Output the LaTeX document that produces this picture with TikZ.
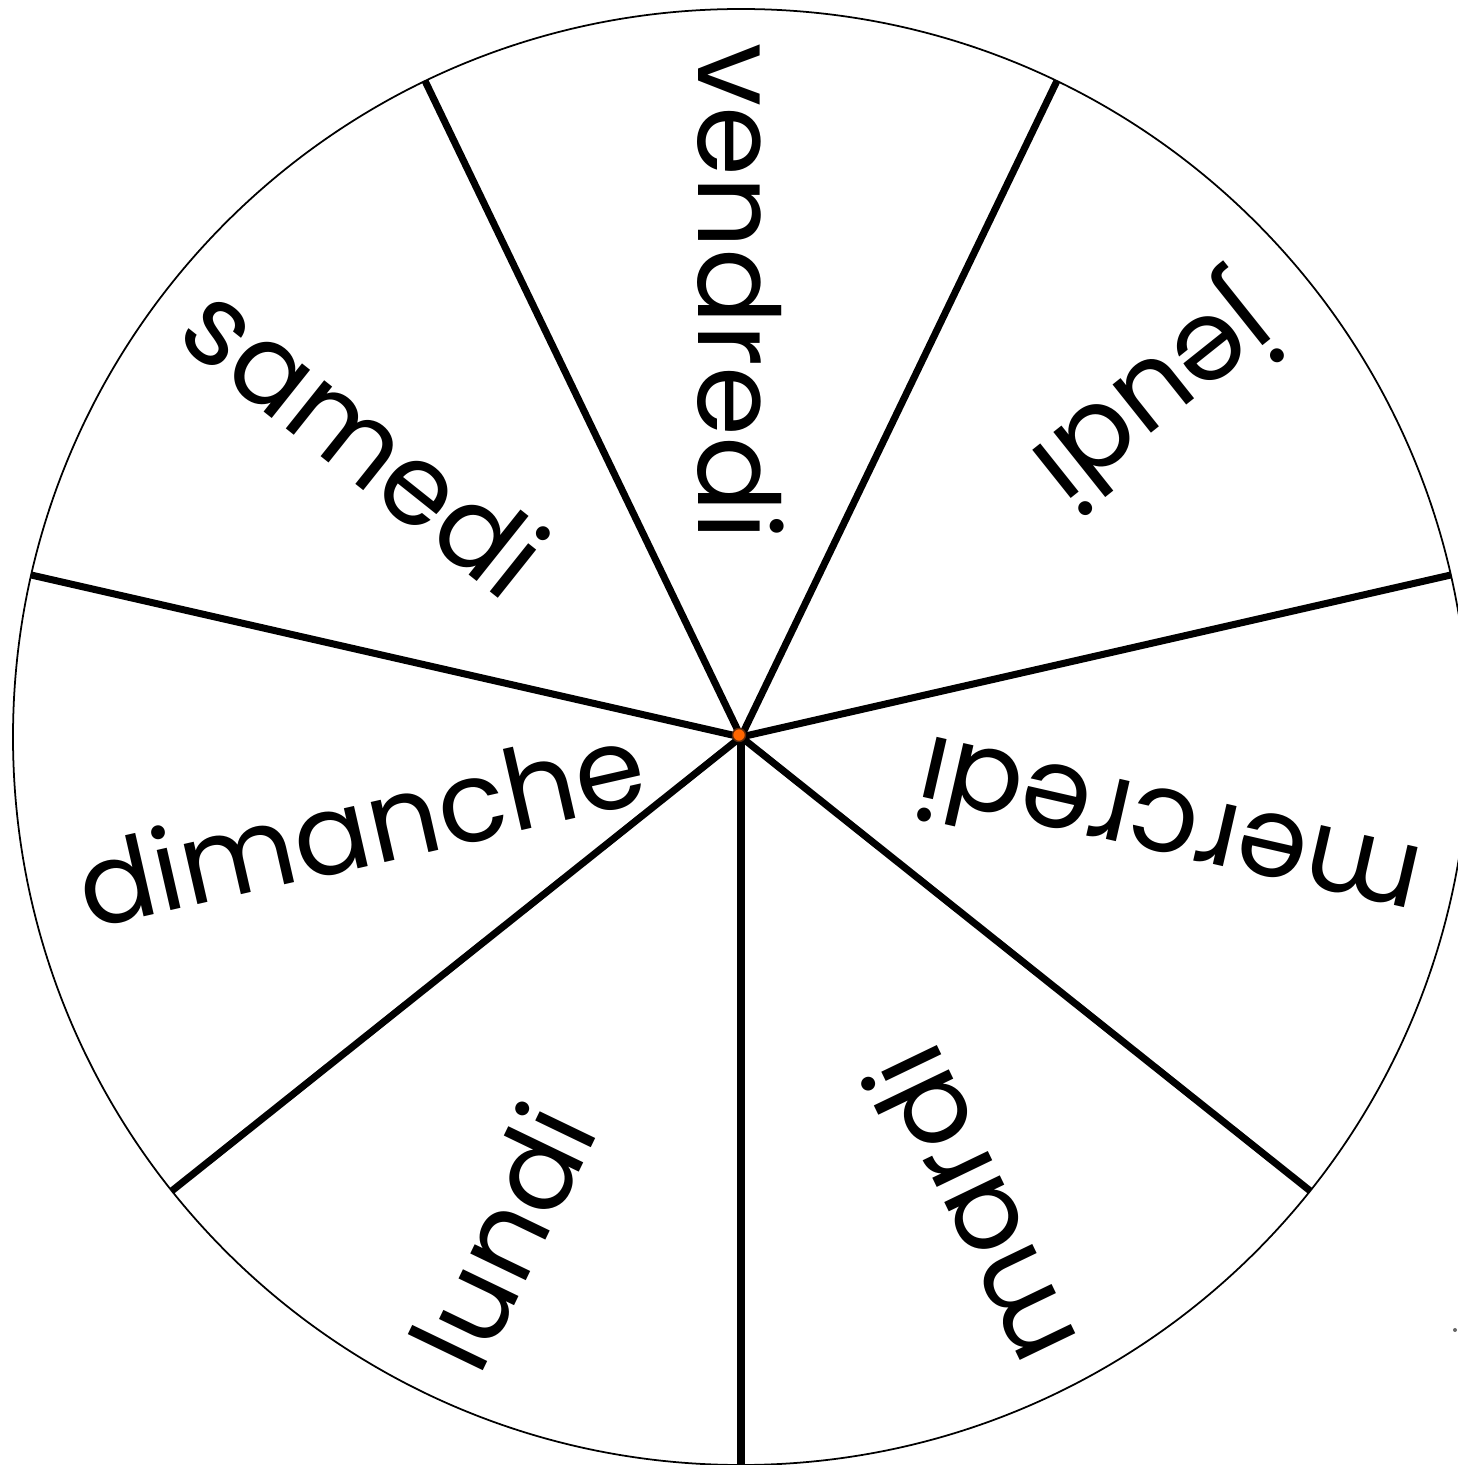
\documentclass[tikz,border=0pt]{standalone}
\usepackage{fontspec}
\setmainfont{Poppins}
\usepackage{xcolor}
\usepackage{tikz}

\definecolor{dotorange}{RGB}{255,102,0}
\definecolor{dotbrown}{RGB}{90,40,10}

\begin{document}
\begin{tikzpicture}[
  rim/.style={line width=0.5pt},
  spoke/.style={line width=2pt},
  dayname/.style={font=\fontsize{32}{32}\selectfont, inner sep=0pt, anchor=west, text depth=0pt},
]

\useasboundingbox (0,0) rectangle (14.58,14.65);

\begin{scope}[shift={(7.41,7.28)}]
\coordinate (ctr) at (0,0);
\draw[rim] (ctr) circle (7.28);

% rim points between the days
\coordinate (r1) at (-90:7.28);
\coordinate (r2) at (-38.571:7.28);
\coordinate (r3) at (12.857:7.28);
\coordinate (r4) at (64.286:7.28);
\coordinate (r5) at (115.714:7.28);
\coordinate (r6) at (167.143:7.28);
\coordinate (r7) at (218.571:7.28);

\draw[spoke] (ctr) -- (r1);
\draw[spoke] (ctr) -- (r2);
\draw[spoke] (ctr) -- (r3);
\draw[spoke] (ctr) -- (r4);
\draw[spoke] (ctr) -- (r5);
\draw[spoke] (ctr) -- (r6);
\draw[spoke] (ctr) -- (r7);

% day names, read from the rim inwards
\node[dayname, rotate=64.286] (lundi) at (-115.714:6.92) {lundi};
\node[dayname, rotate=115.714] (mardi) at (-64.286:6.92) {mardi};
\node[dayname, rotate=167.143] (mercredi) at (-12.857:6.94) {mercredi};
\node[dayname, rotate=218.571] (jeudi) at (38.571:6.72) {jeudi};
\node[dayname, rotate=270] (vendredi) at (90:6.94) {vendredi};
\node[dayname, rotate=321.429] (samedi) at (141.429:6.92) {samedi};
\node[dayname, rotate=12.857] (dimanche) at (192.857:6.8) {dimanche};

\node[circle, fill=dotorange, draw=dotbrown, line width=0.4pt, inner sep=0pt, minimum size=0.13cm] (pivot) at (-0.02,0.02) {};
\end{scope}

\node[circle, fill=black!60, inner sep=0pt, minimum size=0.04cm] (speck) at (14.55,1.35) {};

\end{tikzpicture}
\end{document}
